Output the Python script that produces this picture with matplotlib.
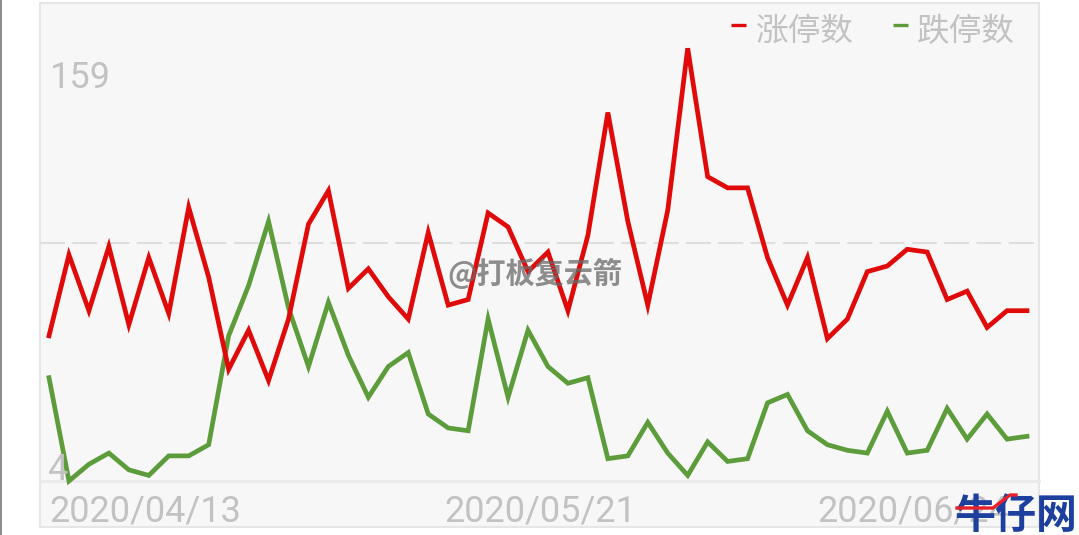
import matplotlib
matplotlib.use("Agg")
import matplotlib.pyplot as plt
from matplotlib.patches import Rectangle
from matplotlib.lines import Line2D
from matplotlib.transforms import blended_transform_factory, offset_copy

plt.rcParams['font.family'] = ['Roboto', 'Noto Sans CJK SC', 'DejaVu Sans']

# ---- data ----
limit_up = [56, 85, 65, 88, 60, 84, 64, 102, 77, 44,
            58, 40, 62, 96, 108, 73, 80, 70, 62, 93,
            67, 69, 100, 95, 79, 86, 65, 92, 136, 97,
            67, 101, 159, 113, 109, 109, 84, 67, 84, 55,
            62, 79, 81, 87, 86, 69, 72, 59, 65, 65]
limit_down = [41, 4, 10, 14, 8, 6, 13, 13, 17, 56,
              74, 97, 66, 45, 68, 49, 34, 45, 50, 28,
              23, 22, 62, 34, 58, 45, 39, 41, 12, 13,
              25, 14, 6, 18, 11, 12, 32, 35, 22, 17,
              15, 14, 29, 14, 15, 30, 19, 28, 19, 20]
series_names = ['涨停数', '跌停数']
tick_idx = [0, 25, 49]
tick_labels = ['2020/04/13', '2020/05/21', '2020/06/24']
watermark = '@打板复云箭'
logo = '牛仔网'

RED = '#e00a0a'
GREEN = '#5c9c3a'
LABEL = '#c2c2c2'

W, H = 1079, 535
fig = plt.figure(figsize=(W / 100, H / 100), dpi=100)
fig.patch.set_facecolor('white')

def fx(px):
    return px / W

def fy(py):
    return 1 - py / H

# chart frame
fig.add_artist(Rectangle((fx(40), fy(527)), fx(999), 524 / H, transform=fig.transFigure,
                         facecolor='#f7f7f7', edgecolor='#e6e6e6', lw=1.5, zorder=0))
# left edge line
fig.add_artist(Line2D([fx(0.8), fx(0.8)], [0, 1], transform=fig.transFigure,
                      color='#808080', lw=1.3))

# axes: plot area x 40..1039, y 5..481
ax = fig.add_axes([fx(40), fy(481), fx(999), 476 / H])
ax.set_facecolor('none')
for s in ax.spines.values():
    s.set_visible(False)
ax.set_xticks([])
ax.set_yticks([])

n = len(limit_up)
step = (1027 - 49) / (n - 1)
ax.set_xlim(-9 / step, (n - 1) + 12 / step)
ymin = min(limit_down)
ymax = max(limit_up)
top = ymax + 0.1 * (ymax - ymin)
ax.set_ylim(ymin, top)

# grid + axis line
ax.axhline((ymin + top) / 2, color='#dedede', lw=1.5, dashes=(12, 3.5), zorder=1)
ax.axhline(ymin, color='#eaeaea', lw=2, zorder=1, clip_on=False)

x = list(range(n))
ax.plot(x, limit_down, color=GREEN, lw=3.4, solid_joinstyle='miter', zorder=3, clip_on=False)
ax.plot(x, limit_up, color=RED, lw=3.4, solid_joinstyle='miter', zorder=4, clip_on=False)

# y labels (max / min)
fig.text(fx(50), fy(88), str(ymax), color=LABEL, fontsize=26, va='baseline', ha='left')
fig.text(fx(47), fy(480), str(ymin), color=LABEL, fontsize=26, va='baseline', ha='left', zorder=2)

# x labels
bt = blended_transform_factory(ax.transData, fig.transFigure)
offsets = [(0, 'left'), (-8, 'center'), (-18, 'right')]
for i, lab, (dx, ha) in zip(tick_idx, tick_labels, offsets):
    tr = offset_copy(bt, fig=fig, x=dx, y=0, units='dots')
    ax.text(i, fy(521.5), lab, transform=tr, color=LABEL, fontsize=26,
            ha=ha, va='baseline', clip_on=False)

# legend
for (x0, tx), name, col in zip([(731, 756), (893, 917)], series_names, [RED, GREEN]):
    fig.add_artist(Line2D([fx(x0), fx(x0 + 15)], [fy(25), fy(25)], transform=fig.transFigure,
                          color=col, lw=2.4, solid_capstyle='butt'))
    fig.text(fx(tx), fy(40.5), name, color=LABEL, fontsize=23.5, va='baseline', ha='left',
             family=['Noto Sans CJK SC', 'DejaVu Sans'])

# watermark
fig.text(fx(447), fy(283), watermark, color='#6a6a6a', alpha=0.75, fontsize=21,
         fontweight='bold', va='baseline', ha='left',
         family=['Noto Sans CJK SC', 'DejaVu Sans'], zorder=10)

# logo
fig.text(fx(955), fy(528), logo, color='#1d3f9e', fontsize=29.5, fontweight='heavy',
         va='baseline', ha='left', family=['Noto Sans CJK SC', 'DejaVu Sans'], zorder=11)
fig.add_artist(Line2D([fx(957), fx(993), fx(1010), fx(1016)],
                      [fy(508), fy(508), fy(495), fy(495)],
                      transform=fig.transFigure, color='#e8202a', lw=2.4, zorder=12))

fig.savefig('out.png', dpi=100)
